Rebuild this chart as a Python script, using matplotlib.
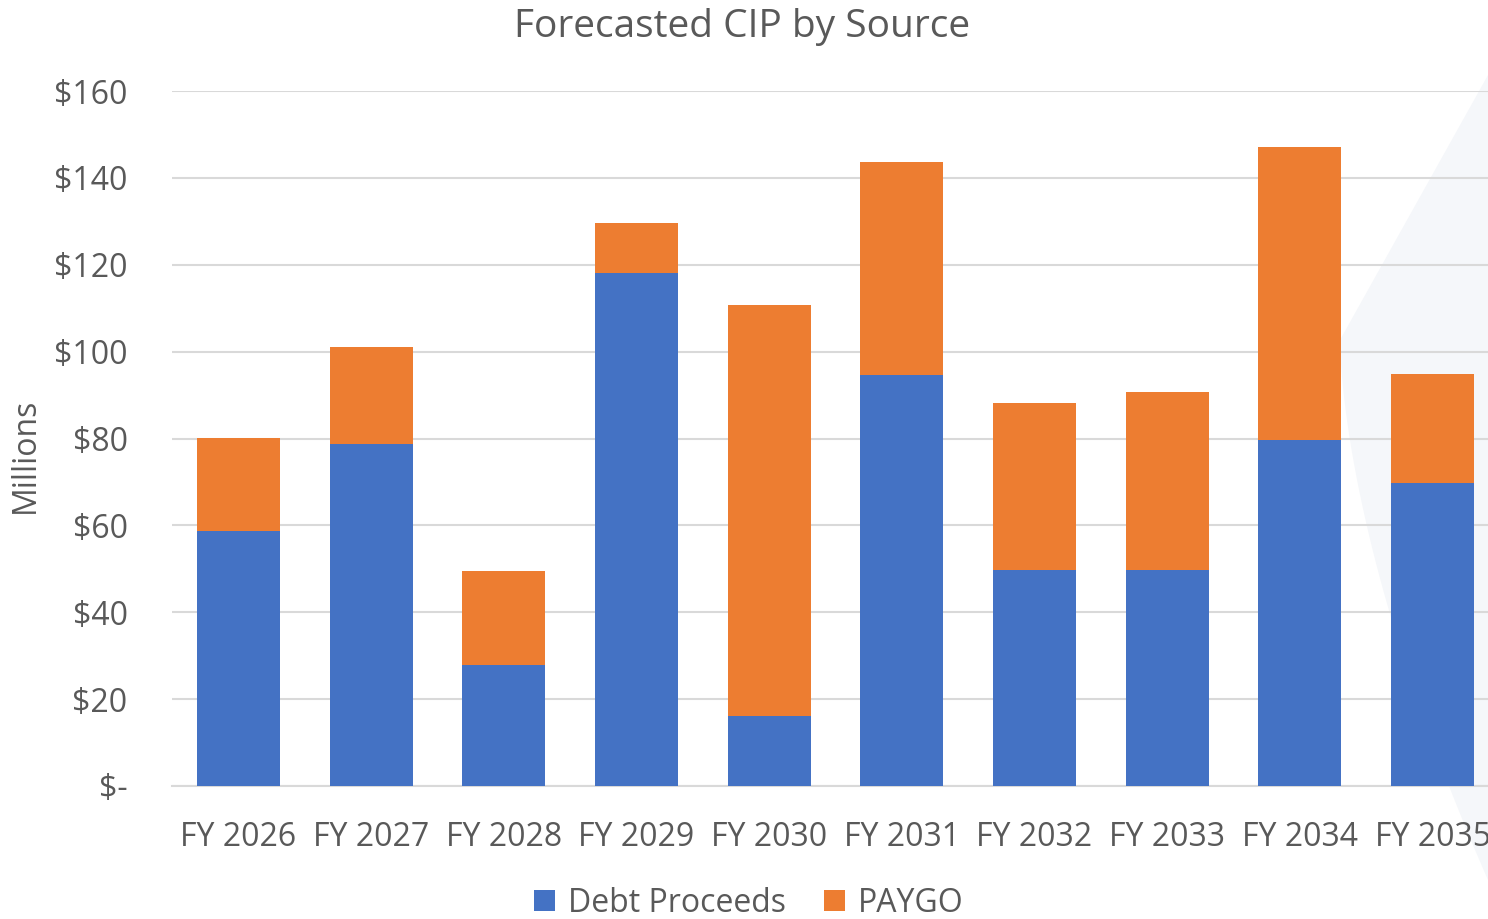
import matplotlib
matplotlib.use("Agg")
import matplotlib.pyplot as plt
from matplotlib.ticker import FuncFormatter, MultipleLocator
from matplotlib.patches import Polygon, Patch
import numpy as np

categories = ["FY 2026", "FY 2027", "FY 2028", "FY 2029", "FY 2030",
              "FY 2031", "FY 2032", "FY 2033", "FY 2034", "FY 2035"]
debt_proceeds = [58.7, 78.7, 27.9, 118.1, 16.1, 94.6, 49.7, 49.7, 79.6, 69.8]
paygo = [21.4, 22.4, 21.6, 11.5, 94.6, 49.0, 38.5, 41.0, 67.5, 25.0]

BLUE = "#4472C4"
ORANGE = "#ED7D31"
TXT = "#595959"
GRID = "#D9D9D9"
FONT = "Open Sans"

plt.rcParams['font.family'] = [FONT, 'DejaVu Sans']

W, H = 1488, 919
fig = plt.figure(figsize=(W / 100, H / 100), dpi=100)

# faint background decoration on the right (drawn in a background axes)
bg = fig.add_axes([0, 0, 1, 1], zorder=-1)
bg.set_xlim(0, W)
bg.set_ylim(H, 0)
bg.axis("off")
t = np.linspace(0, 1, 40)
curve_x = 1340 + (1488 - 1340) * t ** 1.6
curve_y = 340 + (880 - 340) * t
pts = [(1488, 75), (1340, 340)] + list(zip(curve_x, curve_y)) + [(1488, 880)]
bg.add_patch(Polygon(pts, closed=True, facecolor="#F5F7FA", edgecolor="none"))

ax = fig.add_axes([172 / W, 1 - 786 / H, 1327 / W, (786 - 91) / H], zorder=1)
ax.patch.set_alpha(0)

x = np.arange(len(categories))
ax.bar(x, debt_proceeds, width=0.625, color=BLUE, zorder=3, label="Debt Proceeds")
ax.bar(x, paygo, width=0.625, bottom=debt_proceeds, color=ORANGE, zorder=3, label="PAYGO")

ax.set_xlim(-0.5, len(categories) - 0.5)
ax.set_ylim(0, 160)
ax.yaxis.set_major_locator(MultipleLocator(20))
ax.yaxis.set_major_formatter(FuncFormatter(lambda v, p: "$-" if v == 0 else f"${v:.0f}"))
ax.grid(axis="y", color=GRID, linewidth=1.5, zorder=0)
ax.set_axisbelow(True)

for s in ["top", "right", "left"]:
    ax.spines[s].set_visible(False)
ax.spines["bottom"].set_color(GRID)
ax.spines["bottom"].set_linewidth(1.5)

ax.set_xticks(x)
ax.set_xticklabels(categories)
ax.tick_params(axis="both", length=0, labelsize=23, labelcolor=TXT)
ax.tick_params(axis="x", pad=25)
ax.tick_params(axis="y", pad=32)

fig.text(25 / W, 1 - 455 / H, "Millions", rotation=90, ha="center", va="center",
         fontsize=23, color=TXT)
fig.text(742 / W, 1 - 27 / H, "Forecasted CIP by Source", ha="center", va="center",
         fontsize=28, color=TXT)

handles = [Patch(facecolor=BLUE, label="Debt Proceeds"),
           Patch(facecolor=ORANGE, label="PAYGO")]
fig.legend(handles=handles, loc="center", bbox_to_anchor=(749 / W, 1 - 903 / H),
           ncol=2, frameon=False, fontsize=23, labelcolor=TXT,
           handlelength=0.65, handleheight=0.65, handletextpad=0.4, columnspacing=1.2)

fig.savefig("out.png", dpi=100)
